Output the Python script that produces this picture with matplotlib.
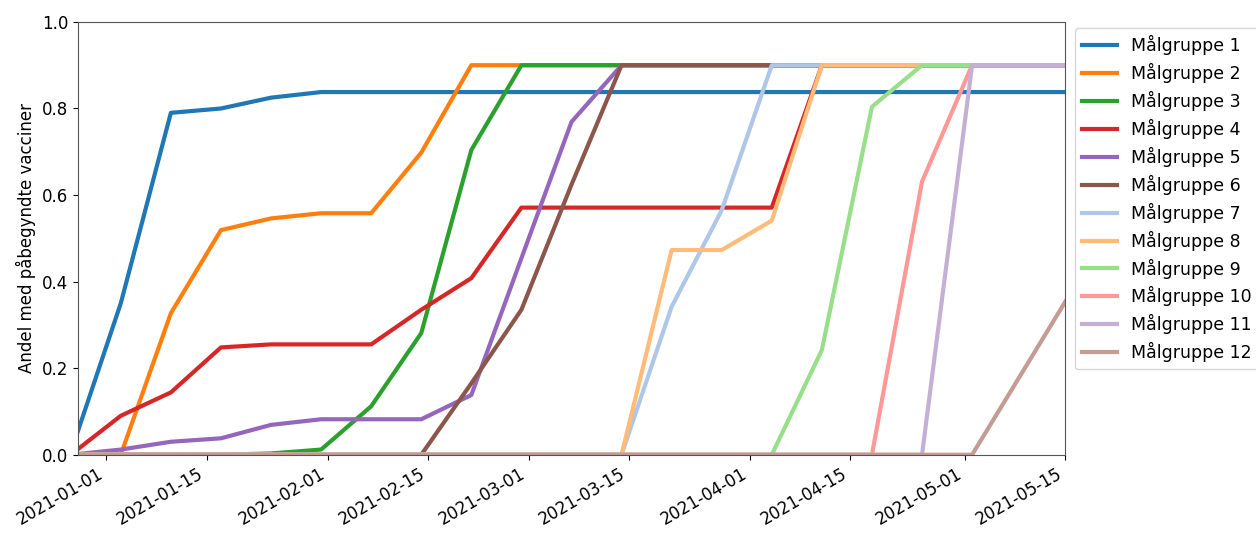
import pandas as pd
import matplotlib
matplotlib.use("Agg")
import matplotlib.pyplot as plt
import matplotlib.dates as mdates

# weekly data points (Sundays)
dates = pd.date_range("2020-12-27", "2021-05-16", freq="7D")

g1 = [0.005, 0.35, 0.79, 0.80, 0.825, 0.838] + [0.838] * 15
g2 = [0, 0, 0.327, 0.519, 0.546, 0.558, 0.558, 0.698, 0.90] + [0.9] * 12
g3 = [0, 0, 0, 0, 0.003, 0.012, 0.112, 0.281, 0.704, 0.9] + [0.9] * 11
g4 = [0, 0.09, 0.144, 0.248, 0.255, 0.255, 0.255, 0.335, 0.408, 0.571,
      0.571, 0.571, 0.571, 0.571, 0.571, 0.9] + [0.9] * 5
g5 = [0, 0.012, 0.03, 0.038, 0.069, 0.082, 0.082, 0.082, 0.138, 0.454,
      0.769, 0.9] + [0.9] * 9
g6 = [0] * 8 + [0.165, 0.335, 0.624, 0.9] + [0.9] * 9
g7 = [0] * 12 + [0.342, 0.565, 0.9] + [0.9] * 6
g8 = [0] * 12 + [0.473, 0.473, 0.541, 0.9] + [0.9] * 5
g9 = [0] * 15 + [0.242, 0.804, 0.9] + [0.9] * 3
g10 = [0] * 17 + [0.631, 0.9, 0.9, 0.9]
g11 = [0] * 18 + [0.9, 0.9, 0.9]
g12 = [0] * 19 + [0.19, 0.38]

groups = [g1, g2, g3, g4, g5, g6, g7, g8, g9, g10, g11, g12]
labels = ["Målgruppe %d" % (i + 1) for i in range(12)]
colors = ["#1f77b4", "#ff7f0e", "#2ca02c", "#d62728", "#9467bd", "#8c564b",
          "#aec7e8", "#ffbb78", "#98df8a", "#ff9896", "#c5b0d5", "#c49c94"]

plt.rcParams["font.size"] = 12

fig = plt.figure(figsize=(12.56, 5.35), dpi=100)
ax = fig.add_axes([0.062, 0.150, 0.786, 0.809])

for vals, lab, col in zip(groups, labels, colors):
    ax.plot(dates, vals, color=col, linewidth=3, label=lab)

ax.set_xlim(pd.Timestamp("2020-12-28"), pd.Timestamp("2021-05-15"))
ax.set_ylim(0, 1.0)
ax.set_ylabel("Andel med påbegyndte vacciner", fontsize=12)

ax.xaxis.set_major_locator(mdates.DayLocator(bymonthday=[1, 15]))
ax.xaxis.set_major_formatter(mdates.DateFormatter("%Y-%m-%d"))
for lbl in ax.get_xticklabels():
    lbl.set_rotation(30)
    lbl.set_ha("right")

for sp in ax.spines.values():
    sp.set_color("#555555")

ax.legend(loc="upper left", bbox_to_anchor=(1.01, 0.985), fontsize=12.5,
          borderaxespad=0, labelspacing=0.45)

fig.savefig("out.png", dpi=100)
